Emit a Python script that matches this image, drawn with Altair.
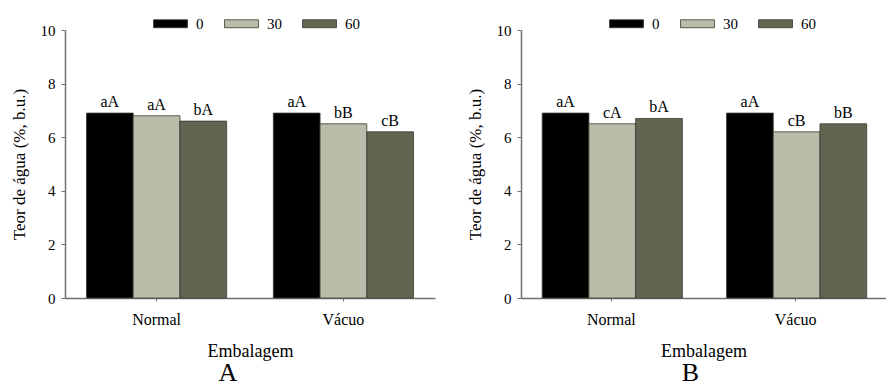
import altair as alt
import pandas as pd

# Packaging types on the x axis and storage times (days) as series
packaging = ["Normal", "Vácuo"]
storage = ["0", "30", "60"]
colors = ["#000000", "#BBBCAA", "#636451"]

# Panel A: water content (% w.b.) per packaging, one list per packaging type
a_normal = [6.9, 6.8, 6.6]
a_vacuo = [6.9, 6.5, 6.2]
a_normal_letters = ["aA", "aA", "bA"]
a_vacuo_letters = ["aA", "bB", "cB"]

# Panel B
b_normal = [6.9, 6.5, 6.7]
b_vacuo = [6.9, 6.2, 6.5]
b_normal_letters = ["aA", "cA", "bA"]
b_vacuo_letters = ["aA", "cB", "bB"]

FONT = "Liberation Serif"
AXIS_GRAY = "#707070"


def make_frame(normal, vacuo, normal_letters, vacuo_letters):
    rows = []
    for pack, vals, lets in (("Normal", normal, normal_letters),
                             ("Vácuo", vacuo, vacuo_letters)):
        for t, v, l in zip(storage, vals, lets):
            rows.append({"Embalagem": pack, "Tempo": t, "Teor": v, "Letra": l})
    return pd.DataFrame(rows)


def panel(df, tag, width, tag_dx):
    base = alt.Chart(df).encode(
        x=alt.X(
            "Embalagem:N",
            sort=packaging,
            scale=alt.Scale(paddingInner=0.25, paddingOuter=0.115),
            axis=alt.Axis(
                title="Embalagem",
                labelAngle=0,
                labelFont=FONT,
                labelFontSize=16,
                labelColor="#000000",
                labelPadding=10,
                tickSize=3,
                tickColor=AXIS_GRAY,
                domainColor=AXIS_GRAY,
                domainWidth=1.5,
                titleFont=FONT,
                titleFontSize=18,
                titleFontWeight="normal",
                titleColor="#000000",
                titlePadding=15,
                grid=False,
            ),
        ),
        xOffset=alt.XOffset(
            "Tempo:N",
            sort=storage,
            scale=alt.Scale(paddingInner=0, paddingOuter=0),
        ),
        y=alt.Y(
            "Teor:Q",
            scale=alt.Scale(domain=[0, 10]),
            axis=alt.Axis(
                values=[0, 2, 4, 6, 8, 10],
                title="Teor de água (%, b.u.)",
                labelFont=FONT,
                labelFontSize=15,
                labelColor="#000000",
                labelPadding=6,
                tickSize=4,
                tickColor=AXIS_GRAY,
                domainColor=AXIS_GRAY,
                domainWidth=1.5,
                titleFont=FONT,
                titleFontSize=17,
                titleFontWeight="normal",
                titleColor="#000000",
                titlePadding=12,
                grid=False,
            ),
        ),
    )
    bars = base.mark_bar(stroke="#3a3a30", strokeWidth=0.8).encode(
        color=alt.Color(
            "Tempo:N",
            sort=storage,
            scale=alt.Scale(domain=storage, range=colors),
            legend=alt.Legend(
                title=None,
                orient="none",
                direction="horizontal",
                legendX=88,
                legendY=-24,
                symbolType="M-1,-0.235H1V0.235H-1Z",
                symbolSize=1156,
                symbolStrokeColor="#3a3a30",
                symbolStrokeWidth=0.8,
                labelFont=FONT,
                labelFontSize=15,
                labelColor="#000000",
                labelOffset=8,
                columnPadding=18,
            ),
        )
    )
    labels = base.mark_text(
        baseline="bottom", dy=-3, font=FONT, fontSize=16, color="#000000"
    ).encode(text="Letra:N")
    return alt.layer(bars, labels).properties(
        width=width,
        height=268,
        title=alt.TitleParams(
            tag,
            orient="bottom",
            anchor="middle",
            dx=tag_dx,
            offset=0,
            font=FONT,
            fontSize=26,
            fontWeight="normal",
            color="#000000",
        ),
    )


chart_a = panel(make_frame(a_normal, a_vacuo, a_normal_letters, a_vacuo_letters), "A", 370, -22)
chart_b = panel(make_frame(b_normal, b_vacuo, b_normal_letters, b_vacuo_letters), "B", 365, -13)

chart = (
    alt.hconcat(chart_a, chart_b, spacing=31)
    .resolve_scale(color="independent")
    .resolve_legend(color="independent")
    .properties(padding={"left": 10, "top": 6, "right": 0, "bottom": 0})
    .configure_view(stroke=None)
)

chart.save("out.html", embed_options={"renderer": "svg", "actions": False})
